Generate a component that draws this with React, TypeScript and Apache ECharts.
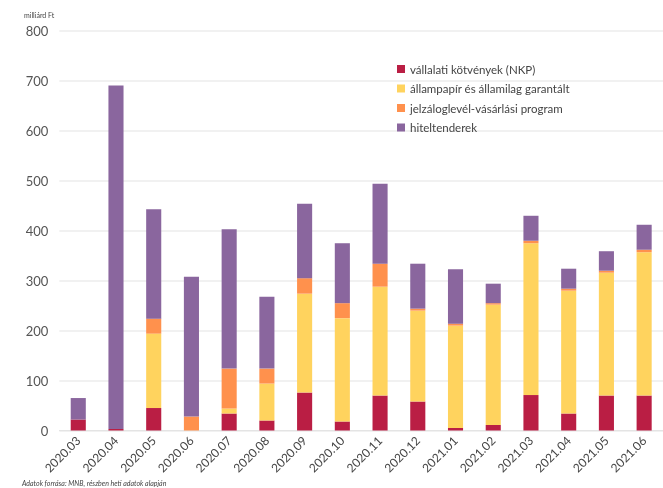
import React, { useEffect, useRef } from "react";
import * as echarts from "echarts";

const categories = ["2020.03", "2020.04", "2020.05", "2020.06", "2020.07", "2020.08", "2020.09", "2020.10", "2020.11", "2020.12", "2021.01", "2021.02", "2021.03", "2021.04", "2021.05", "2021.06"];
const corporateBonds = [22, 3, 45, 0, 34, 20, 76, 18, 70, 58, 5, 11, 71, 34, 70, 70];
const governmentSecurities = [0, 0, 149, 0, 10, 74, 198, 207, 218, 182, 205, 241, 304, 246, 246, 287];
const mortgageBonds = [0, 0, 30, 28, 80, 30, 31, 30, 46, 4, 4, 3, 5, 4, 4, 5];
const creditTenders = [43, 688, 219, 280, 279, 144, 149, 120, 160, 90, 109, 39, 50, 40, 39, 50];
const yTicks = [0, 100, 200, 300, 400, 500, 600, 700, 800];

const seriesNames = [
  "vállalati kötvények (NKP)",
  "állampapír és államilag garantált",
  "jelzáloglevél-vásárlási program",
  "hiteltenderek",
];
const colors = ["#BA1E44", "#FFD35E", "#FF914D", "#8A669E"];

export default function App() {
  const ref = useRef<HTMLDivElement>(null);
  useEffect(() => {
    if (!ref.current) return;
    const chart = echarts.init(ref.current, undefined, { renderer: "svg" });
    const font = "Lato, 'Noto Sans', sans-serif";
    const dataSets = [corporateBonds, governmentSecurities, mortgageBonds, creditTenders];
    chart.setOption({
      animation: false,
      textStyle: { fontFamily: font },
      grid: { left: 59.4, top: 31, width: 620.8, height: 399.5, containLabel: false },
      legend: {
        orient: "vertical",
        left: 392,
        top: 58,
        itemWidth: 8,
        itemHeight: 8,
        itemGap: 7.5,
        icon: "rect",
        data: seriesNames,
        textStyle: { fontSize: 11.5, color: "#444", fontFamily: font },
      },
      xAxis: {
        type: "category",
        data: categories,
        axisLine: { lineStyle: { color: "#e4e4e4" } },
        axisTick: { show: false },
        axisLabel: { rotate: 45, fontSize: 12, color: "#444", margin: 8, interval: 0 },
      },
      yAxis: {
        type: "value",
        min: yTicks[0],
        max: yTicks[yTicks.length - 1],
        interval: 100,
        axisLine: { show: false },
        axisTick: { show: false },
        splitLine: { lineStyle: { color: "#ececec", width: 1.5 } },
        axisLabel: { fontSize: 13, color: "#555", margin: 11 },
      },
      graphic: [
        { type: "text", left: 24, top: 11, style: { text: "milliárd Ft", fontSize: 7, fill: "#444", fontFamily: font } },
        { type: "text", left: 22, top: 479, style: { text: "Adatok forrása: MNB, részben heti adatok alapján", fontSize: 7, fontStyle: "italic", fill: "#444", fontFamily: font } },
      ],
      series: seriesNames.map((name, i) => ({
        name,
        type: "bar",
        stack: "total",
        barWidth: "40%",
        data: dataSets[i],
        itemStyle: { color: colors[i] },
      })),
    });
    return () => chart.dispose();
  }, []);
  return <div ref={ref} style={{ position: "fixed", left: 0, top: 0, width: 663, height: 488 }} />;
}
